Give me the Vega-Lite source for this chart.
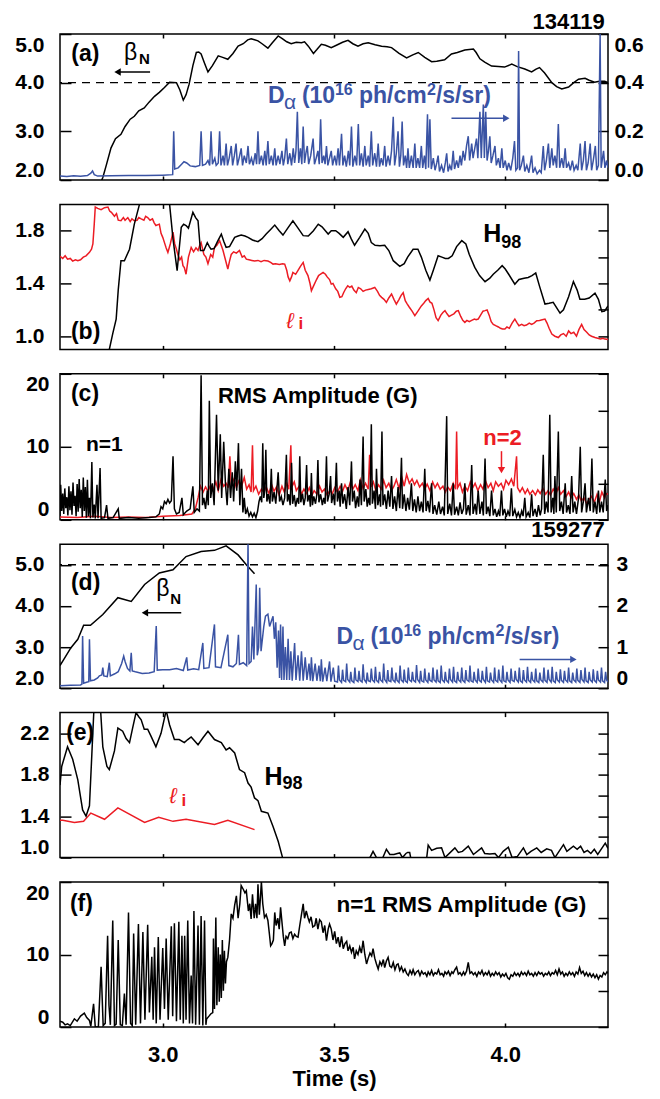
{
"$schema":"https://vega.github.io/schema/vega-lite/v6.json",
"background":"white",
"padding":{"left":14,"top":10,"right":5,"bottom":5},
"spacing":24.4,
"bounds":"flush",
"config":{
 "font":"Liberation Sans",
 "view":{"stroke":"black","strokeWidth":1.5},
 "axis":{"domain":false,"grid":false,"labelFont":"Liberation Sans","labelFontWeight":"bold","labelFontSize":21,"labelColor":"black","tickColor":"black","tickWidth":1.5},
 "text":{"font":"Liberation Sans"}
},
"datasets":{
"ba":[{"t":2.81,"v":1.8},{"t":2.825,"v":2.05},{"t":2.835,"v":2.3},{"t":2.849,"v":2.66},{"t":2.862,"v":2.85},{"t":2.878,"v":2.94},{"t":2.89,"v":3.1},{"t":2.905,"v":3.25},{"t":2.917,"v":3.31},{"t":2.93,"v":3.42},{"t":2.946,"v":3.48},{"t":2.96,"v":3.6},{"t":2.976,"v":3.72},{"t":2.99,"v":3.8},{"t":3.005,"v":3.9},{"t":3.02,"v":4.01},{"t":3.04,"v":4.0},{"t":3.05,"v":3.85},{"t":3.06,"v":3.64},{"t":3.068,"v":3.75},{"t":3.077,"v":3.97},{"t":3.088,"v":4.35},{"t":3.098,"v":4.62},{"t":3.105,"v":4.63},{"t":3.112,"v":4.59},{"t":3.122,"v":4.4},{"t":3.132,"v":4.22},{"t":3.145,"v":4.35},{"t":3.162,"v":4.55},{"t":3.175,"v":4.52},{"t":3.19,"v":4.48},{"t":3.205,"v":4.6},{"t":3.22,"v":4.75},{"t":3.235,"v":4.8},{"t":3.248,"v":4.88},{"t":3.258,"v":4.9},{"t":3.268,"v":4.88},{"t":3.278,"v":4.86},{"t":3.29,"v":4.8},{"t":3.307,"v":4.71},{"t":3.32,"v":4.82},{"t":3.337,"v":4.96},{"t":3.35,"v":4.9},{"t":3.362,"v":4.84},{"t":3.375,"v":4.8},{"t":3.39,"v":4.83},{"t":3.405,"v":4.82},{"t":3.414,"v":4.84},{"t":3.425,"v":4.75},{"t":3.44,"v":4.6},{"t":3.45,"v":4.68},{"t":3.463,"v":4.79},{"t":3.475,"v":4.77},{"t":3.492,"v":4.72},{"t":3.51,"v":4.78},{"t":3.525,"v":4.83},{"t":3.541,"v":4.87},{"t":3.555,"v":4.8},{"t":3.57,"v":4.75},{"t":3.585,"v":4.8},{"t":3.6,"v":4.82},{"t":3.62,"v":4.78},{"t":3.639,"v":4.75},{"t":3.655,"v":4.74},{"t":3.668,"v":4.72},{"t":3.69,"v":4.6},{"t":3.712,"v":4.51},{"t":3.73,"v":4.57},{"t":3.746,"v":4.62},{"t":3.765,"v":4.52},{"t":3.785,"v":4.43},{"t":3.8,"v":4.44},{"t":3.823,"v":4.47},{"t":3.843,"v":4.59},{"t":3.86,"v":4.62},{"t":3.882,"v":4.67},{"t":3.907,"v":4.69},{"t":3.915,"v":4.62},{"t":3.926,"v":4.49},{"t":3.94,"v":4.42},{"t":3.96,"v":4.34},{"t":3.98,"v":4.33},{"t":3.998,"v":4.32},{"t":4.019,"v":4.38},{"t":4.035,"v":4.33},{"t":4.057,"v":4.28},{"t":4.077,"v":4.22},{"t":4.09,"v":4.28},{"t":4.1,"v":4.31},{"t":4.115,"v":4.2},{"t":4.136,"v":4.0},{"t":4.15,"v":3.92},{"t":4.165,"v":3.87},{"t":4.185,"v":3.91},{"t":4.2,"v":4.0},{"t":4.214,"v":4.07},{"t":4.233,"v":4.09},{"t":4.245,"v":4.05},{"t":4.261,"v":4.01},{"t":4.275,"v":4.03},{"t":4.29,"v":4.03},{"t":4.3,"v":4.0}],
"da":[{"t":2.7,"v":0.016},{"t":2.72,"v":0.014},{"t":2.74,"v":0.017},{"t":2.76,"v":0.015},{"t":2.78,"v":0.018},{"t":2.79,"v":0.028},{"t":2.795,"v":0.037},{"t":2.8,"v":0.022},{"t":2.81,"v":0.016},{"t":2.85,"v":0.017},{"t":2.9,"v":0.019},{"t":2.95,"v":0.018},{"t":3.0,"v":0.02},{"t":3.029,"v":0.022},{"t":3.032,"v":0.2},{"t":3.035,"v":0.045},{"t":3.045,"v":0.05},{"t":3.055,"v":0.065},{"t":3.062,"v":0.075},{"t":3.07,"v":0.07},{"t":3.08,"v":0.058},{"t":3.095,"v":0.055},{"t":3.108,"v":0.06},{"t":3.112,"v":0.2},{"t":3.116,"v":0.06},{"t":3.125,"v":0.065},{"t":3.132,"v":0.08},{"t":3.137,"v":0.06},{"t":3.141,"v":0.2},{"t":3.145,"v":0.065},{"t":3.152,"v":0.09},{"t":3.156,"v":0.06},{"t":3.162,"v":0.07},{"t":3.166,"v":0.2},{"t":3.17,"v":0.06},{"t":3.176,"v":0.1},{"t":3.18,"v":0.06},{"t":3.185,"v":0.15},{"t":3.189,"v":0.06},{"t":3.194,"v":0.09},{"t":3.2,"v":0.14},{"t":3.204,"v":0.06},{"t":3.209,"v":0.1},{"t":3.214,"v":0.15},{"t":3.218,"v":0.06},{"t":3.223,"v":0.09},{"t":3.229,"v":0.13},{"t":3.233,"v":0.06},{"t":3.238,"v":0.1},{"t":3.244,"v":0.07},{"t":3.249,"v":0.14},{"t":3.253,"v":0.065},{"t":3.259,"v":0.09},{"t":3.264,"v":0.06},{"t":3.27,"v":0.11},{"t":3.274,"v":0.065},{"t":3.278,"v":0.2},{"t":3.282,"v":0.065},{"t":3.288,"v":0.1},{"t":3.293,"v":0.06},{"t":3.298,"v":0.12},{"t":3.302,"v":0.06},{"t":3.307,"v":0.16},{"t":3.311,"v":0.065},{"t":3.317,"v":0.1},{"t":3.322,"v":0.06},{"t":3.327,"v":0.13},{"t":3.331,"v":0.06},{"t":3.337,"v":0.1},{"t":3.342,"v":0.065},{"t":3.348,"v":0.12},{"t":3.352,"v":0.06},{"t":3.356,"v":0.09},{"t":3.361,"v":0.17},{"t":3.365,"v":0.065},{"t":3.371,"v":0.11},{"t":3.376,"v":0.06},{"t":3.381,"v":0.13},{"t":3.385,"v":0.07},{"t":3.389,"v":0.12},{"t":3.393,"v":0.28},{"t":3.397,"v":0.07},{"t":3.402,"v":0.13},{"t":3.406,"v":0.065},{"t":3.41,"v":0.22},{"t":3.414,"v":0.07},{"t":3.418,"v":0.11},{"t":3.422,"v":0.14},{"t":3.426,"v":0.065},{"t":3.432,"v":0.1},{"t":3.439,"v":0.17},{"t":3.443,"v":0.065},{"t":3.448,"v":0.09},{"t":3.453,"v":0.12},{"t":3.457,"v":0.065},{"t":3.461,"v":0.25},{"t":3.465,"v":0.07},{"t":3.47,"v":0.1},{"t":3.474,"v":0.065},{"t":3.478,"v":0.14},{"t":3.482,"v":0.06},{"t":3.487,"v":0.09},{"t":3.492,"v":0.12},{"t":3.496,"v":0.06},{"t":3.502,"v":0.1},{"t":3.507,"v":0.06},{"t":3.512,"v":0.13},{"t":3.516,"v":0.06},{"t":3.522,"v":0.19},{"t":3.526,"v":0.06},{"t":3.531,"v":0.1},{"t":3.536,"v":0.055},{"t":3.542,"v":0.12},{"t":3.546,"v":0.06},{"t":3.551,"v":0.22},{"t":3.555,"v":0.055},{"t":3.561,"v":0.1},{"t":3.566,"v":0.06},{"t":3.571,"v":0.23},{"t":3.575,"v":0.06},{"t":3.58,"v":0.11},{"t":3.585,"v":0.055},{"t":3.59,"v":0.14},{"t":3.594,"v":0.06},{"t":3.6,"v":0.1},{"t":3.604,"v":0.055},{"t":3.609,"v":0.2},{"t":3.613,"v":0.06},{"t":3.619,"v":0.11},{"t":3.624,"v":0.055},{"t":3.629,"v":0.15},{"t":3.633,"v":0.055},{"t":3.638,"v":0.09},{"t":3.643,"v":0.06},{"t":3.648,"v":0.14},{"t":3.652,"v":0.055},{"t":3.658,"v":0.1},{"t":3.663,"v":0.06},{"t":3.668,"v":0.12},{"t":3.673,"v":0.26},{"t":3.677,"v":0.06},{"t":3.682,"v":0.11},{"t":3.687,"v":0.2},{"t":3.691,"v":0.055},{"t":3.695,"v":0.1},{"t":3.699,"v":0.24},{"t":3.703,"v":0.06},{"t":3.708,"v":0.1},{"t":3.712,"v":0.05},{"t":3.716,"v":0.13},{"t":3.72,"v":0.05},{"t":3.726,"v":0.1},{"t":3.731,"v":0.05},{"t":3.736,"v":0.15},{"t":3.74,"v":0.05},{"t":3.745,"v":0.09},{"t":3.75,"v":0.05},{"t":3.755,"v":0.14},{"t":3.759,"v":0.05},{"t":3.764,"v":0.1},{"t":3.768,"v":0.045},{"t":3.773,"v":0.27},{"t":3.776,"v":0.05},{"t":3.78,"v":0.25},{"t":3.784,"v":0.045},{"t":3.79,"v":0.09},{"t":3.795,"v":0.04},{"t":3.8,"v":0.07},{"t":3.804,"v":0.1},{"t":3.808,"v":0.035},{"t":3.814,"v":0.06},{"t":3.82,"v":0.03},{"t":3.825,"v":0.07},{"t":3.829,"v":0.11},{"t":3.833,"v":0.035},{"t":3.838,"v":0.06},{"t":3.843,"v":0.04},{"t":3.848,"v":0.12},{"t":3.852,"v":0.045},{"t":3.858,"v":0.08},{"t":3.863,"v":0.05},{"t":3.868,"v":0.1},{"t":3.872,"v":0.06},{"t":3.877,"v":0.12},{"t":3.882,"v":0.08},{"t":3.887,"v":0.14},{"t":3.892,"v":0.18},{"t":3.896,"v":0.08},{"t":3.902,"v":0.15},{"t":3.906,"v":0.09},{"t":3.911,"v":0.13},{"t":3.916,"v":0.17},{"t":3.92,"v":0.09},{"t":3.926,"v":0.28},{"t":3.93,"v":0.09},{"t":3.936,"v":0.31},{"t":3.939,"v":0.09},{"t":3.943,"v":0.28},{"t":3.947,"v":0.08},{"t":3.951,"v":0.12},{"t":3.955,"v":0.18},{"t":3.959,"v":0.07},{"t":3.964,"v":0.1},{"t":3.97,"v":0.14},{"t":3.974,"v":0.06},{"t":3.98,"v":0.09},{"t":3.985,"v":0.05},{"t":3.99,"v":0.13},{"t":3.994,"v":0.05},{"t":4.0,"v":0.08},{"t":4.005,"v":0.04},{"t":4.01,"v":0.07},{"t":4.016,"v":0.04},{"t":4.022,"v":0.09},{"t":4.027,"v":0.16},{"t":4.031,"v":0.04},{"t":4.036,"v":0.05},{"t":4.039,"v":0.53},{"t":4.042,"v":0.04},{"t":4.047,"v":0.06},{"t":4.053,"v":0.1},{"t":4.057,"v":0.035},{"t":4.063,"v":0.06},{"t":4.069,"v":0.03},{"t":4.077,"v":0.1},{"t":4.081,"v":0.03},{"t":4.087,"v":0.05},{"t":4.093,"v":0.025},{"t":4.1,"v":0.04},{"t":4.105,"v":0.03},{"t":4.111,"v":0.14},{"t":4.115,"v":0.04},{"t":4.12,"v":0.08},{"t":4.126,"v":0.15},{"t":4.13,"v":0.05},{"t":4.136,"v":0.13},{"t":4.14,"v":0.06},{"t":4.145,"v":0.1},{"t":4.15,"v":0.05},{"t":4.155,"v":0.23},{"t":4.159,"v":0.05},{"t":4.165,"v":0.09},{"t":4.17,"v":0.05},{"t":4.175,"v":0.13},{"t":4.179,"v":0.05},{"t":4.185,"v":0.07},{"t":4.19,"v":0.04},{"t":4.196,"v":0.08},{"t":4.201,"v":0.04},{"t":4.207,"v":0.06},{"t":4.212,"v":0.04},{"t":4.219,"v":0.15},{"t":4.223,"v":0.04},{"t":4.228,"v":0.08},{"t":4.233,"v":0.16},{"t":4.237,"v":0.04},{"t":4.242,"v":0.07},{"t":4.248,"v":0.15},{"t":4.252,"v":0.04},{"t":4.257,"v":0.08},{"t":4.263,"v":0.14},{"t":4.267,"v":0.04},{"t":4.272,"v":0.06},{"t":4.277,"v":0.6},{"t":4.28,"v":0.05},{"t":4.287,"v":0.12},{"t":4.291,"v":0.05},{"t":4.296,"v":0.08},{"t":4.3,"v":0.05}],
"lib":[{"t":2.7,"v":1.606},{"t":2.708,"v":1.59},{"t":2.715,"v":1.61},{"t":2.722,"v":1.585},{"t":2.73,"v":1.59},{"t":2.737,"v":1.57},{"t":2.745,"v":1.58},{"t":2.752,"v":1.573},{"t":2.76,"v":1.58},{"t":2.768,"v":1.6},{"t":2.776,"v":1.61},{"t":2.786,"v":1.636},{"t":2.792,"v":1.66},{"t":2.796,"v":1.7},{"t":2.8,"v":1.85},{"t":2.803,"v":1.98},{"t":2.81,"v":1.97},{"t":2.82,"v":1.96},{"t":2.83,"v":1.975},{"t":2.84,"v":1.98},{"t":2.845,"v":1.95},{"t":2.85,"v":1.94},{"t":2.859,"v":1.91},{"t":2.865,"v":1.93},{"t":2.87,"v":1.88},{"t":2.878,"v":1.876},{"t":2.885,"v":1.9},{"t":2.89,"v":1.88},{"t":2.898,"v":1.9},{"t":2.905,"v":1.87},{"t":2.91,"v":1.89},{"t":2.917,"v":1.876},{"t":2.925,"v":1.88},{"t":2.93,"v":1.9},{"t":2.937,"v":1.89},{"t":2.945,"v":1.88},{"t":2.95,"v":1.91},{"t":2.956,"v":1.9},{"t":2.963,"v":1.88},{"t":2.97,"v":1.89},{"t":2.975,"v":1.86},{"t":2.98,"v":1.84},{"t":2.99,"v":1.85},{"t":2.995,"v":1.78},{"t":3.0,"v":1.75},{"t":3.005,"v":1.71},{"t":3.01,"v":1.67},{"t":3.015,"v":1.636},{"t":3.022,"v":1.7},{"t":3.03,"v":1.79},{"t":3.035,"v":1.7},{"t":3.04,"v":1.66},{"t":3.044,"v":1.62},{"t":3.05,"v":1.58},{"t":3.055,"v":1.6},{"t":3.059,"v":1.535},{"t":3.063,"v":1.52},{"t":3.068,"v":1.47},{"t":3.075,"v":1.6},{"t":3.083,"v":1.674},{"t":3.09,"v":1.64},{"t":3.097,"v":1.67},{"t":3.103,"v":1.65},{"t":3.108,"v":1.69},{"t":3.112,"v":1.71},{"t":3.12,"v":1.62},{"t":3.126,"v":1.6},{"t":3.132,"v":1.55},{"t":3.14,"v":1.62},{"t":3.146,"v":1.6},{"t":3.151,"v":1.674},{"t":3.158,"v":1.69},{"t":3.166,"v":1.725},{"t":3.172,"v":1.68},{"t":3.176,"v":1.65},{"t":3.183,"v":1.58},{"t":3.19,"v":1.51},{"t":3.195,"v":1.57},{"t":3.2,"v":1.62},{"t":3.207,"v":1.64},{"t":3.215,"v":1.63},{"t":3.224,"v":1.65},{"t":3.232,"v":1.6},{"t":3.238,"v":1.61},{"t":3.244,"v":1.585},{"t":3.252,"v":1.58},{"t":3.26,"v":1.575},{"t":3.268,"v":1.57},{"t":3.278,"v":1.575},{"t":3.287,"v":1.565},{"t":3.296,"v":1.575},{"t":3.307,"v":1.57},{"t":3.315,"v":1.56},{"t":3.322,"v":1.547},{"t":3.33,"v":1.55},{"t":3.34,"v":1.545},{"t":3.35,"v":1.55},{"t":3.356,"v":1.547},{"t":3.362,"v":1.5},{"t":3.366,"v":1.45},{"t":3.371,"v":1.42},{"t":3.376,"v":1.45},{"t":3.38,"v":1.484},{"t":3.388,"v":1.47},{"t":3.395,"v":1.5},{"t":3.402,"v":1.53},{"t":3.41,"v":1.56},{"t":3.416,"v":1.5},{"t":3.42,"v":1.48},{"t":3.424,"v":1.46},{"t":3.43,"v":1.4},{"t":3.434,"v":1.345},{"t":3.44,"v":1.38},{"t":3.449,"v":1.43},{"t":3.455,"v":1.46},{"t":3.46,"v":1.47},{"t":3.468,"v":1.484},{"t":3.475,"v":1.47},{"t":3.48,"v":1.45},{"t":3.487,"v":1.43},{"t":3.492,"v":1.395},{"t":3.497,"v":1.4},{"t":3.505,"v":1.36},{"t":3.511,"v":1.34},{"t":3.517,"v":1.295},{"t":3.523,"v":1.3},{"t":3.528,"v":1.33},{"t":3.534,"v":1.36},{"t":3.54,"v":1.383},{"t":3.546,"v":1.37},{"t":3.552,"v":1.38},{"t":3.558,"v":1.35},{"t":3.565,"v":1.33},{"t":3.571,"v":1.37},{"t":3.578,"v":1.36},{"t":3.585,"v":1.34},{"t":3.592,"v":1.35},{"t":3.6,"v":1.355},{"t":3.609,"v":1.36},{"t":3.619,"v":1.37},{"t":3.627,"v":1.34},{"t":3.633,"v":1.31},{"t":3.639,"v":1.295},{"t":3.646,"v":1.28},{"t":3.653,"v":1.257},{"t":3.66,"v":1.29},{"t":3.668,"v":1.32},{"t":3.675,"v":1.28},{"t":3.682,"v":1.244},{"t":3.69,"v":1.28},{"t":3.696,"v":1.31},{"t":3.702,"v":1.33},{"t":3.708,"v":1.27},{"t":3.714,"v":1.244},{"t":3.72,"v":1.22},{"t":3.728,"v":1.19},{"t":3.736,"v":1.156},{"t":3.745,"v":1.19},{"t":3.755,"v":1.23},{"t":3.762,"v":1.25},{"t":3.768,"v":1.27},{"t":3.775,"v":1.287},{"t":3.78,"v":1.26},{"t":3.786,"v":1.25},{"t":3.792,"v":1.2},{"t":3.798,"v":1.14},{"t":3.804,"v":1.118},{"t":3.812,"v":1.16},{"t":3.818,"v":1.18},{"t":3.824,"v":1.194},{"t":3.83,"v":1.17},{"t":3.836,"v":1.15},{"t":3.843,"v":1.16},{"t":3.85,"v":1.17},{"t":3.857,"v":1.19},{"t":3.863,"v":1.194},{"t":3.87,"v":1.15},{"t":3.876,"v":1.12},{"t":3.882,"v":1.105},{"t":3.888,"v":1.12},{"t":3.895,"v":1.11},{"t":3.902,"v":1.12},{"t":3.91,"v":1.13},{"t":3.915,"v":1.125},{"t":3.921,"v":1.13},{"t":3.928,"v":1.16},{"t":3.935,"v":1.19},{"t":3.941,"v":1.194},{"t":3.947,"v":1.2},{"t":3.953,"v":1.16},{"t":3.959,"v":1.11},{"t":3.965,"v":1.09},{"t":3.972,"v":1.08},{"t":3.98,"v":1.07},{"t":3.986,"v":1.06},{"t":3.992,"v":1.055},{"t":3.999,"v":1.054},{"t":4.005,"v":1.07},{"t":4.012,"v":1.06},{"t":4.02,"v":1.1},{"t":4.028,"v":1.13},{"t":4.035,"v":1.1},{"t":4.04,"v":1.08},{"t":4.048,"v":1.09},{"t":4.055,"v":1.08},{"t":4.062,"v":1.085},{"t":4.07,"v":1.1},{"t":4.077,"v":1.09},{"t":4.084,"v":1.1},{"t":4.092,"v":1.118},{"t":4.1,"v":1.12},{"t":4.108,"v":1.125},{"t":4.116,"v":1.13},{"t":4.122,"v":1.1},{"t":4.128,"v":1.06},{"t":4.136,"v":1.016},{"t":4.145,"v":1.0},{"t":4.155,"v":0.99},{"t":4.162,"v":1.01},{"t":4.17,"v":1.02},{"t":4.178,"v":1.0},{"t":4.185,"v":1.04},{"t":4.192,"v":1.02},{"t":4.2,"v":1.03},{"t":4.208,"v":1.0},{"t":4.215,"v":1.05},{"t":4.223,"v":1.09},{"t":4.23,"v":1.05},{"t":4.238,"v":1.03},{"t":4.245,"v":1.01},{"t":4.252,"v":1.0},{"t":4.262,"v":0.99},{"t":4.27,"v":0.985},{"t":4.278,"v":0.98},{"t":4.285,"v":0.985},{"t":4.291,"v":0.978},{"t":4.3,"v":0.975}],
"hb":[{"t":2.835,"v":0.85},{"t":2.844,"v":0.9},{"t":2.854,"v":1.02},{"t":2.864,"v":1.13},{"t":2.87,"v":1.35},{"t":2.878,"v":1.573},{"t":2.888,"v":1.573},{"t":2.903,"v":1.66},{"t":2.917,"v":1.85},{"t":2.932,"v":2.0},{"t":2.94,"v":2.1},{"t":2.96,"v":2.3},{"t":2.99,"v":2.25},{"t":3.01,"v":2.15},{"t":3.02,"v":2.0},{"t":3.03,"v":1.737},{"t":3.042,"v":1.497},{"t":3.054,"v":1.826},{"t":3.061,"v":1.85},{"t":3.068,"v":1.84},{"t":3.075,"v":1.82},{"t":3.088,"v":1.94},{"t":3.096,"v":1.9},{"t":3.103,"v":1.876},{"t":3.11,"v":1.65},{"t":3.12,"v":1.65},{"t":3.13,"v":1.71},{"t":3.136,"v":1.68},{"t":3.141,"v":1.66},{"t":3.15,"v":1.665},{"t":3.16,"v":1.72},{"t":3.171,"v":1.775},{"t":3.178,"v":1.72},{"t":3.185,"v":1.674},{"t":3.195,"v":1.68},{"t":3.21,"v":1.75},{"t":3.22,"v":1.76},{"t":3.229,"v":1.767},{"t":3.24,"v":1.76},{"t":3.249,"v":1.75},{"t":3.262,"v":1.73},{"t":3.278,"v":1.717},{"t":3.29,"v":1.74},{"t":3.302,"v":1.775},{"t":3.315,"v":1.81},{"t":3.327,"v":1.843},{"t":3.34,"v":1.8},{"t":3.351,"v":1.767},{"t":3.365,"v":1.82},{"t":3.38,"v":1.876},{"t":3.395,"v":1.82},{"t":3.41,"v":1.763},{"t":3.425,"v":1.76},{"t":3.44,"v":1.8},{"t":3.454,"v":1.85},{"t":3.465,"v":1.83},{"t":3.483,"v":1.775},{"t":3.492,"v":1.8},{"t":3.505,"v":1.8},{"t":3.515,"v":1.78},{"t":3.527,"v":1.75},{"t":3.541,"v":1.793},{"t":3.55,"v":1.74},{"t":3.56,"v":1.69},{"t":3.575,"v":1.75},{"t":3.59,"v":1.813},{"t":3.6,"v":1.78},{"t":3.609,"v":1.71},{"t":3.62,"v":1.69},{"t":3.634,"v":1.687},{"t":3.648,"v":1.69},{"t":3.66,"v":1.65},{"t":3.673,"v":1.573},{"t":3.692,"v":1.53},{"t":3.705,"v":1.55},{"t":3.715,"v":1.6},{"t":3.731,"v":1.66},{"t":3.745,"v":1.66},{"t":3.755,"v":1.6},{"t":3.768,"v":1.5},{"t":3.78,"v":1.426},{"t":3.79,"v":1.5},{"t":3.804,"v":1.61},{"t":3.815,"v":1.6},{"t":3.825,"v":1.59},{"t":3.834,"v":1.59},{"t":3.845,"v":1.61},{"t":3.858,"v":1.68},{"t":3.873,"v":1.725},{"t":3.885,"v":1.7},{"t":3.895,"v":1.62},{"t":3.911,"v":1.522},{"t":3.925,"v":1.46},{"t":3.941,"v":1.414},{"t":3.955,"v":1.44},{"t":3.965,"v":1.47},{"t":3.978,"v":1.5},{"t":3.991,"v":1.535},{"t":4.0,"v":1.51},{"t":4.01,"v":1.47},{"t":4.028,"v":1.395},{"t":4.04,"v":1.43},{"t":4.055,"v":1.44},{"t":4.067,"v":1.446},{"t":4.078,"v":1.46},{"t":4.089,"v":1.48},{"t":4.1,"v":1.38},{"t":4.116,"v":1.244},{"t":4.128,"v":1.25},{"t":4.14,"v":1.257},{"t":4.16,"v":1.175},{"t":4.17,"v":1.2},{"t":4.185,"v":1.3},{"t":4.199,"v":1.414},{"t":4.21,"v":1.35},{"t":4.218,"v":1.28},{"t":4.232,"v":1.28},{"t":4.245,"v":1.29},{"t":4.262,"v":1.327},{"t":4.272,"v":1.28},{"t":4.282,"v":1.186},{"t":4.29,"v":1.19},{"t":4.3,"v":1.23}],
"n1c":[{"t":2.7,"v":0.5},{"t":2.702,"v":4.8},{"t":2.705,"v":1.2},{"t":2.708,"v":3.6},{"t":2.711,"v":0.8},{"t":2.714,"v":4.3},{"t":2.717,"v":1.6},{"t":2.72,"v":3.1},{"t":2.723,"v":0.6},{"t":2.726,"v":4.6},{"t":2.729,"v":1.3},{"t":2.732,"v":3.9},{"t":2.735,"v":0.7},{"t":2.738,"v":5.1},{"t":2.741,"v":1.9},{"t":2.744,"v":3.3},{"t":2.747,"v":0.5},{"t":2.75,"v":4.9},{"t":2.753,"v":1.1},{"t":2.756,"v":5.6},{"t":2.759,"v":1.6},{"t":2.762,"v":4.1},{"t":2.765,"v":0.4},{"t":2.768,"v":5.8},{"t":2.771,"v":1.2},{"t":2.774,"v":4.5},{"t":2.777,"v":0.3},{"t":2.78,"v":5.5},{"t":2.783,"v":0.5},{"t":2.786,"v":3.0},{"t":2.789,"v":0.2},{"t":2.793,"v":7.9},{"t":2.796,"v":0.3},{"t":2.8,"v":2.1},{"t":2.803,"v":0.2},{"t":2.808,"v":4.8},{"t":2.811,"v":0.2},{"t":2.817,"v":7.1},{"t":2.82,"v":0.2},{"t":2.83,"v":0.3},{"t":2.836,"v":2.0},{"t":2.84,"v":0.2},{"t":2.855,"v":0.3},{"t":2.87,"v":1.5},{"t":2.873,"v":0.2},{"t":2.9,"v":0.3},{"t":2.93,"v":0.2},{"t":2.96,"v":0.3},{"t":2.98,"v":0.4},{"t":2.99,"v":0.8},{"t":2.995,"v":1.8},{"t":3.0,"v":1.5},{"t":3.005,"v":2.5},{"t":3.01,"v":2.2},{"t":3.015,"v":2.8},{"t":3.02,"v":2.3},{"t":3.025,"v":2.6},{"t":3.03,"v":8.7},{"t":3.034,"v":1.5},{"t":3.04,"v":0.8},{"t":3.048,"v":1.0},{"t":3.056,"v":3.0},{"t":3.06,"v":0.7},{"t":3.07,"v":1.2},{"t":3.08,"v":1.5},{"t":3.088,"v":4.6},{"t":3.092,"v":1.0},{"t":3.1,"v":1.5},{"t":3.107,"v":1.2},{"t":3.112,"v":19.8},{"t":3.116,"v":2.0},{"t":3.12,"v":3.0},{"t":3.125,"v":1.5},{"t":3.13,"v":4.0},{"t":3.133,"v":2.0},{"t":3.136,"v":16.3},{"t":3.14,"v":3.0},{"t":3.145,"v":5.0},{"t":3.15,"v":2.0},{"t":3.157,"v":14.4},{"t":3.162,"v":4.0},{"t":3.168,"v":11.7},{"t":3.172,"v":3.0},{"t":3.178,"v":10.7},{"t":3.183,"v":5.0},{"t":3.188,"v":2.0},{"t":3.193,"v":7.0},{"t":3.198,"v":3.0},{"t":3.203,"v":6.5},{"t":3.207,"v":2.5},{"t":3.212,"v":8.0},{"t":3.216,"v":4.0},{"t":3.221,"v":10.5},{"t":3.225,"v":2.0},{"t":3.23,"v":7.0},{"t":3.234,"v":1.0},{"t":3.238,"v":3.0},{"t":3.242,"v":0.8},{"t":3.247,"v":1.5},{"t":3.252,"v":0.5},{"t":3.257,"v":1.0},{"t":3.262,"v":0.4},{"t":3.267,"v":0.9},{"t":3.272,"v":0.3},{"t":3.277,"v":1.2},{"t":3.281,"v":2.5},{"t":3.285,"v":3.2},{"t":3.289,"v":2.4},{"t":3.292,"v":10.5},{"t":3.295,"v":3.0},{"t":3.298,"v":4.0},{"t":3.301,"v":9.6},{"t":3.304,"v":2.5},{"t":3.308,"v":3.5},{"t":3.313,"v":2.2},{"t":3.317,"v":7.0},{"t":3.32,"v":2.5},{"t":3.325,"v":3.8},{"t":3.33,"v":2.2},{"t":3.337,"v":6.5},{"t":3.341,"v":2.5},{"t":3.346,"v":3.2},{"t":3.351,"v":2.0},{"t":3.356,"v":3.0},{"t":3.361,"v":8.9},{"t":3.364,"v":2.5},{"t":3.368,"v":3.5},{"t":3.372,"v":2.0},{"t":3.376,"v":7.8},{"t":3.379,"v":2.2},{"t":3.384,"v":3.4},{"t":3.388,"v":1.8},{"t":3.393,"v":3.0},{"t":3.397,"v":2.2},{"t":3.4,"v":8.7},{"t":3.403,"v":2.4},{"t":3.408,"v":3.6},{"t":3.412,"v":2.0},{"t":3.416,"v":3.0},{"t":3.42,"v":7.5},{"t":3.423,"v":2.5},{"t":3.428,"v":3.4},{"t":3.431,"v":1.8},{"t":3.434,"v":6.4},{"t":3.437,"v":2.0},{"t":3.441,"v":3.2},{"t":3.446,"v":2.2},{"t":3.45,"v":3.5},{"t":3.453,"v":8.2},{"t":3.456,"v":2.4},{"t":3.461,"v":3.5},{"t":3.466,"v":2.0},{"t":3.47,"v":3.0},{"t":3.474,"v":2.2},{"t":3.478,"v":8.7},{"t":3.481,"v":2.5},{"t":3.486,"v":3.5},{"t":3.49,"v":6.0},{"t":3.493,"v":2.3},{"t":3.498,"v":3.6},{"t":3.502,"v":2.0},{"t":3.507,"v":7.8},{"t":3.51,"v":2.5},{"t":3.515,"v":4.0},{"t":3.518,"v":1.8},{"t":3.522,"v":5.0},{"t":3.526,"v":2.2},{"t":3.531,"v":3.5},{"t":3.536,"v":1.5},{"t":3.541,"v":4.5},{"t":3.546,"v":2.0},{"t":3.551,"v":8.0},{"t":3.554,"v":2.5},{"t":3.559,"v":4.0},{"t":3.563,"v":1.6},{"t":3.568,"v":3.2},{"t":3.572,"v":1.8},{"t":3.576,"v":5.5},{"t":3.58,"v":2.0},{"t":3.585,"v":11.4},{"t":3.588,"v":2.5},{"t":3.593,"v":4.2},{"t":3.597,"v":1.8},{"t":3.601,"v":3.0},{"t":3.605,"v":2.0},{"t":3.609,"v":13.1},{"t":3.612,"v":2.2},{"t":3.617,"v":4.0},{"t":3.621,"v":1.5},{"t":3.624,"v":7.0},{"t":3.628,"v":2.0},{"t":3.633,"v":3.5},{"t":3.636,"v":1.8},{"t":3.64,"v":12.1},{"t":3.643,"v":2.0},{"t":3.648,"v":3.5},{"t":3.653,"v":1.5},{"t":3.658,"v":4.0},{"t":3.663,"v":1.8},{"t":3.668,"v":6.0},{"t":3.672,"v":1.5},{"t":3.677,"v":3.2},{"t":3.682,"v":1.2},{"t":3.687,"v":4.5},{"t":3.692,"v":1.6},{"t":3.697,"v":8.5},{"t":3.7,"v":1.5},{"t":3.705,"v":3.5},{"t":3.71,"v":1.2},{"t":3.715,"v":3.0},{"t":3.72,"v":1.4},{"t":3.726,"v":5.0},{"t":3.73,"v":1.2},{"t":3.735,"v":2.8},{"t":3.74,"v":1.0},{"t":3.745,"v":3.2},{"t":3.75,"v":1.2},{"t":3.755,"v":2.5},{"t":3.76,"v":1.0},{"t":3.765,"v":7.0},{"t":3.769,"v":1.2},{"t":3.774,"v":2.6},{"t":3.779,"v":1.0},{"t":3.785,"v":5.0},{"t":3.789,"v":0.8},{"t":3.794,"v":2.0},{"t":3.8,"v":0.7},{"t":3.806,"v":2.5},{"t":3.811,"v":0.8},{"t":3.817,"v":1.8},{"t":3.822,"v":0.6},{"t":3.829,"v":14.2},{"t":3.832,"v":0.8},{"t":3.838,"v":2.2},{"t":3.843,"v":0.6},{"t":3.848,"v":5.0},{"t":3.852,"v":0.7},{"t":3.858,"v":1.8},{"t":3.863,"v":0.6},{"t":3.868,"v":2.4},{"t":3.873,"v":0.8},{"t":3.878,"v":1.5},{"t":3.882,"v":5.0},{"t":3.886,"v":0.7},{"t":3.892,"v":2.0},{"t":3.897,"v":0.6},{"t":3.902,"v":7.5},{"t":3.906,"v":0.8},{"t":3.912,"v":2.2},{"t":3.916,"v":0.7},{"t":3.921,"v":4.0},{"t":3.926,"v":0.8},{"t":3.932,"v":2.5},{"t":3.936,"v":0.6},{"t":3.941,"v":8.4},{"t":3.945,"v":0.8},{"t":3.95,"v":1.8},{"t":3.955,"v":0.5},{"t":3.96,"v":4.0},{"t":3.965,"v":0.6},{"t":3.97,"v":1.5},{"t":3.975,"v":0.4},{"t":3.98,"v":1.2},{"t":3.984,"v":0.5},{"t":3.989,"v":4.0},{"t":3.993,"v":0.6},{"t":3.998,"v":1.5},{"t":4.003,"v":0.4},{"t":4.008,"v":1.2},{"t":4.013,"v":0.5},{"t":4.018,"v":4.3},{"t":4.022,"v":0.5},{"t":4.028,"v":1.4},{"t":4.033,"v":0.4},{"t":4.038,"v":1.0},{"t":4.043,"v":0.3},{"t":4.048,"v":1.2},{"t":4.052,"v":0.5},{"t":4.057,"v":3.0},{"t":4.061,"v":0.4},{"t":4.067,"v":1.0},{"t":4.072,"v":0.3},{"t":4.077,"v":3.5},{"t":4.081,"v":0.5},{"t":4.087,"v":1.5},{"t":4.092,"v":0.4},{"t":4.097,"v":2.0},{"t":4.102,"v":0.6},{"t":4.106,"v":1.5},{"t":4.111,"v":8.9},{"t":4.115,"v":0.8},{"t":4.12,"v":2.5},{"t":4.125,"v":1.0},{"t":4.13,"v":14.4},{"t":4.134,"v":1.0},{"t":4.139,"v":3.0},{"t":4.142,"v":0.8},{"t":4.145,"v":6.0},{"t":4.149,"v":1.0},{"t":4.155,"v":12.1},{"t":4.159,"v":1.2},{"t":4.164,"v":2.5},{"t":4.169,"v":0.8},{"t":4.175,"v":5.0},{"t":4.179,"v":1.0},{"t":4.184,"v":2.0},{"t":4.189,"v":0.8},{"t":4.194,"v":6.0},{"t":4.198,"v":1.0},{"t":4.203,"v":2.5},{"t":4.208,"v":0.8},{"t":4.214,"v":3.0},{"t":4.219,"v":10.0},{"t":4.223,"v":1.0},{"t":4.228,"v":2.5},{"t":4.233,"v":5.0},{"t":4.237,"v":1.0},{"t":4.243,"v":3.0},{"t":4.248,"v":1.2},{"t":4.253,"v":8.4},{"t":4.257,"v":1.0},{"t":4.262,"v":2.5},{"t":4.267,"v":0.8},{"t":4.272,"v":4.0},{"t":4.276,"v":1.0},{"t":4.281,"v":2.5},{"t":4.286,"v":1.0},{"t":4.292,"v":5.5},{"t":4.296,"v":1.2},{"t":4.3,"v":2.0}],
"n2c":[{"t":2.7,"v":0.4},{"t":2.75,"v":0.3},{"t":2.8,"v":0.5},{"t":2.85,"v":0.3},{"t":2.9,"v":0.4},{"t":2.95,"v":0.3},{"t":3.0,"v":0.5},{"t":3.05,"v":0.6},{"t":3.085,"v":0.8},{"t":3.095,"v":1.5},{"t":3.103,"v":3.0},{"t":3.11,"v":4.6},{"t":3.118,"v":3.8},{"t":3.125,"v":4.5},{"t":3.132,"v":3.9},{"t":3.14,"v":4.8},{"t":3.148,"v":4.2},{"t":3.155,"v":5.2},{"t":3.162,"v":4.0},{"t":3.17,"v":5.5},{"t":3.178,"v":4.6},{"t":3.185,"v":5.0},{"t":3.191,"v":4.4},{"t":3.196,"v":8.7},{"t":3.2,"v":4.8},{"t":3.208,"v":5.6},{"t":3.215,"v":4.4},{"t":3.222,"v":5.3},{"t":3.23,"v":4.6},{"t":3.238,"v":5.8},{"t":3.245,"v":4.2},{"t":3.252,"v":4.8},{"t":3.258,"v":3.8},{"t":3.262,"v":10.2},{"t":3.265,"v":4.0},{"t":3.272,"v":4.6},{"t":3.28,"v":3.5},{"t":3.288,"v":4.2},{"t":3.295,"v":3.8},{"t":3.302,"v":4.5},{"t":3.31,"v":3.6},{"t":3.318,"v":4.8},{"t":3.325,"v":3.9},{"t":3.332,"v":4.5},{"t":3.34,"v":3.4},{"t":3.348,"v":4.6},{"t":3.355,"v":3.8},{"t":3.362,"v":5.0},{"t":3.368,"v":4.2},{"t":3.374,"v":10.2},{"t":3.377,"v":4.5},{"t":3.384,"v":5.2},{"t":3.39,"v":4.0},{"t":3.398,"v":4.6},{"t":3.405,"v":3.5},{"t":3.412,"v":4.2},{"t":3.42,"v":3.6},{"t":3.428,"v":4.4},{"t":3.435,"v":3.3},{"t":3.442,"v":4.0},{"t":3.45,"v":3.5},{"t":3.458,"v":4.6},{"t":3.465,"v":3.8},{"t":3.472,"v":4.2},{"t":3.48,"v":3.4},{"t":3.488,"v":4.0},{"t":3.495,"v":3.6},{"t":3.502,"v":4.4},{"t":3.51,"v":3.8},{"t":3.518,"v":4.6},{"t":3.525,"v":3.9},{"t":3.532,"v":4.8},{"t":3.54,"v":4.0},{"t":3.548,"v":5.2},{"t":3.555,"v":4.2},{"t":3.562,"v":4.8},{"t":3.57,"v":4.0},{"t":3.577,"v":5.5},{"t":3.585,"v":4.3},{"t":3.592,"v":5.0},{"t":3.6,"v":4.2},{"t":3.604,"v":8.9},{"t":3.608,"v":4.5},{"t":3.615,"v":5.2},{"t":3.622,"v":4.0},{"t":3.63,"v":4.8},{"t":3.638,"v":4.2},{"t":3.645,"v":5.4},{"t":3.652,"v":4.4},{"t":3.66,"v":5.0},{"t":3.668,"v":4.0},{"t":3.675,"v":4.6},{"t":3.682,"v":5.5},{"t":3.69,"v":4.3},{"t":3.698,"v":5.8},{"t":3.705,"v":4.6},{"t":3.712,"v":6.2},{"t":3.72,"v":5.0},{"t":3.728,"v":5.6},{"t":3.735,"v":4.8},{"t":3.742,"v":5.4},{"t":3.75,"v":4.5},{"t":3.758,"v":5.0},{"t":3.765,"v":4.2},{"t":3.772,"v":4.9},{"t":3.78,"v":4.0},{"t":3.788,"v":5.2},{"t":3.795,"v":4.4},{"t":3.802,"v":5.0},{"t":3.81,"v":4.2},{"t":3.818,"v":4.6},{"t":3.825,"v":3.8},{"t":3.832,"v":4.5},{"t":3.84,"v":4.0},{"t":3.848,"v":5.0},{"t":3.855,"v":4.2},{"t":3.858,"v":12.1},{"t":3.861,"v":4.4},{"t":3.868,"v":5.0},{"t":3.875,"v":3.8},{"t":3.882,"v":4.6},{"t":3.89,"v":4.0},{"t":3.898,"v":5.2},{"t":3.905,"v":4.4},{"t":3.912,"v":5.0},{"t":3.92,"v":4.0},{"t":3.928,"v":4.8},{"t":3.935,"v":4.2},{"t":3.942,"v":5.4},{"t":3.95,"v":4.4},{"t":3.958,"v":5.0},{"t":3.965,"v":4.0},{"t":3.972,"v":5.2},{"t":3.98,"v":4.6},{"t":3.988,"v":5.0},{"t":3.995,"v":4.2},{"t":4.002,"v":5.4},{"t":4.01,"v":4.8},{"t":4.018,"v":5.6},{"t":4.025,"v":4.6},{"t":4.033,"v":8.7},{"t":4.036,"v":4.4},{"t":4.043,"v":3.8},{"t":4.05,"v":4.4},{"t":4.058,"v":3.6},{"t":4.065,"v":4.2},{"t":4.072,"v":3.5},{"t":4.08,"v":4.0},{"t":4.088,"v":3.4},{"t":4.095,"v":4.1},{"t":4.102,"v":3.6},{"t":4.11,"v":4.3},{"t":4.118,"v":3.5},{"t":4.125,"v":4.0},{"t":4.132,"v":3.4},{"t":4.14,"v":4.2},{"t":4.148,"v":3.6},{"t":4.155,"v":4.4},{"t":4.162,"v":3.5},{"t":4.17,"v":4.0},{"t":4.178,"v":3.2},{"t":4.185,"v":3.8},{"t":4.192,"v":3.0},{"t":4.2,"v":3.6},{"t":4.208,"v":2.8},{"t":4.215,"v":3.4},{"t":4.222,"v":2.6},{"t":4.23,"v":3.0},{"t":4.238,"v":2.2},{"t":4.245,"v":2.8},{"t":4.252,"v":3.2},{"t":4.26,"v":2.4},{"t":4.268,"v":3.5},{"t":4.275,"v":2.5},{"t":4.282,"v":3.8},{"t":4.29,"v":3.0},{"t":4.295,"v":3.6},{"t":4.3,"v":3.5}],
"bd":[{"t":2.7,"v":2.55},{"t":2.708,"v":2.66},{"t":2.732,"v":2.985},{"t":2.752,"v":3.19},{"t":2.769,"v":3.53},{"t":2.789,"v":3.53},{"t":2.825,"v":3.79},{"t":2.869,"v":4.2},{"t":2.908,"v":4.11},{"t":2.947,"v":4.52},{"t":2.99,"v":4.8},{"t":3.03,"v":4.88},{"t":3.068,"v":5.2},{"t":3.112,"v":5.32},{"t":3.151,"v":5.35},{"t":3.185,"v":5.46},{"t":3.22,"v":5.24},{"t":3.244,"v":5.0},{"t":3.268,"v":4.78}],
"dd":[{"t":2.7,"v":0.06},{"t":2.73,"v":0.07},{"t":2.76,"v":0.08},{"t":2.764,"v":0.1},{"t":2.766,"v":1.27},{"t":2.769,"v":0.12},{"t":2.78,"v":0.15},{"t":2.784,"v":0.16},{"t":2.786,"v":1.19},{"t":2.789,"v":0.18},{"t":2.8,"v":0.2},{"t":2.81,"v":0.25},{"t":2.815,"v":0.3},{"t":2.822,"v":0.32},{"t":2.825,"v":0.5},{"t":2.828,"v":0.3},{"t":2.838,"v":0.28},{"t":2.844,"v":0.62},{"t":2.847,"v":0.3},{"t":2.86,"v":0.35},{"t":2.87,"v":0.4},{"t":2.88,"v":0.6},{"t":2.886,"v":0.78},{"t":2.89,"v":0.65},{"t":2.897,"v":0.48},{"t":2.904,"v":0.42},{"t":2.908,"v":0.86},{"t":2.911,"v":0.42},{"t":2.92,"v":0.4},{"t":2.94,"v":0.36},{"t":2.96,"v":0.37},{"t":2.975,"v":0.4},{"t":2.981,"v":1.51},{"t":2.984,"v":0.44},{"t":3.0,"v":0.45},{"t":3.02,"v":0.45},{"t":3.04,"v":0.48},{"t":3.06,"v":0.43},{"t":3.07,"v":0.75},{"t":3.073,"v":0.44},{"t":3.09,"v":0.47},{"t":3.105,"v":0.45},{"t":3.117,"v":1.1},{"t":3.12,"v":0.48},{"t":3.135,"v":0.5},{"t":3.151,"v":1.55},{"t":3.154,"v":0.52},{"t":3.17,"v":0.5},{"t":3.19,"v":1.3},{"t":3.193,"v":0.55},{"t":3.205,"v":0.52},{"t":3.215,"v":0.6},{"t":3.221,"v":1.3},{"t":3.224,"v":0.58},{"t":3.235,"v":0.62},{"t":3.245,"v":0.55},{"t":3.249,"v":3.6},{"t":3.252,"v":0.6},{"t":3.258,"v":0.65},{"t":3.262,"v":1.5},{"t":3.266,"v":0.7},{"t":3.273,"v":2.52},{"t":3.276,"v":0.8},{"t":3.28,"v":1.0},{"t":3.283,"v":2.44},{"t":3.287,"v":0.9},{"t":3.295,"v":1.5},{"t":3.3,"v":1.75},{"t":3.307,"v":1.8},{"t":3.312,"v":1.5},{"t":3.318,"v":1.65},{"t":3.322,"v":1.75},{"t":3.326,"v":1.2},{"t":3.33,"v":1.6},{"t":3.334,"v":0.5},{"t":3.338,"v":1.4},{"t":3.341,"v":0.25},{"t":3.344,"v":1.55},{"t":3.347,"v":0.2},{"t":3.351,"v":1.5},{"t":3.354,"v":0.2},{"t":3.358,"v":1.0},{"t":3.362,"v":0.2},{"t":3.366,"v":1.2},{"t":3.37,"v":0.2},{"t":3.374,"v":0.9},{"t":3.378,"v":0.18},{"t":3.385,"v":1.1},{"t":3.389,"v":0.2},{"t":3.395,"v":0.8},{"t":3.4,"v":0.18},{"t":3.405,"v":0.9},{"t":3.41,"v":0.18},{"t":3.416,"v":0.75},{"t":3.421,"v":0.2},{"t":3.427,"v":0.6},{"t":3.431,"v":0.18},{"t":3.434,"v":0.75},{"t":3.438,"v":0.17},{"t":3.445,"v":0.6},{"t":3.45,"v":0.18},{"t":3.456,"v":0.55},{"t":3.46,"v":0.17},{"t":3.463,"v":0.7},{"t":3.467,"v":0.16},{"t":3.474,"v":0.5},{"t":3.479,"v":0.17},{"t":3.487,"v":0.65},{"t":3.491,"v":0.16},{"t":3.498,"v":0.5},{"t":3.502,"v":0.17},{"t":3.51,"v":0.15},{"t":3.513,"v":0.55},{"t":3.516,"v":0.2},{"t":3.522,"v":0.14},{"t":3.525,"v":0.45},{"t":3.528,"v":0.19},{"t":3.534,"v":0.16},{"t":3.537,"v":0.6},{"t":3.54,"v":0.21},{"t":3.546,"v":0.15},{"t":3.549,"v":0.4},{"t":3.552,"v":0.18},{"t":3.558,"v":0.14},{"t":3.561,"v":0.5},{"t":3.564,"v":0.2},{"t":3.57,"v":0.16},{"t":3.573,"v":0.42},{"t":3.576,"v":0.19},{"t":3.582,"v":0.15},{"t":3.585,"v":0.58},{"t":3.588,"v":0.21},{"t":3.594,"v":0.14},{"t":3.597,"v":0.38},{"t":3.6,"v":0.18},{"t":3.606,"v":0.16},{"t":3.609,"v":0.48},{"t":3.612,"v":0.2},{"t":3.618,"v":0.15},{"t":3.621,"v":0.52},{"t":3.624,"v":0.19},{"t":3.63,"v":0.14},{"t":3.633,"v":0.4},{"t":3.636,"v":0.2},{"t":3.642,"v":0.15},{"t":3.645,"v":0.6},{"t":3.648,"v":0.21},{"t":3.654,"v":0.14},{"t":3.657,"v":0.44},{"t":3.66,"v":0.18},{"t":3.666,"v":0.16},{"t":3.669,"v":0.5},{"t":3.672,"v":0.2},{"t":3.678,"v":0.15},{"t":3.681,"v":0.38},{"t":3.684,"v":0.19},{"t":3.69,"v":0.14},{"t":3.693,"v":0.55},{"t":3.696,"v":0.2},{"t":3.702,"v":0.15},{"t":3.705,"v":0.45},{"t":3.708,"v":0.18},{"t":3.714,"v":0.14},{"t":3.717,"v":0.5},{"t":3.72,"v":0.2},{"t":3.726,"v":0.16},{"t":3.729,"v":0.4},{"t":3.732,"v":0.19},{"t":3.738,"v":0.15},{"t":3.741,"v":0.56},{"t":3.744,"v":0.21},{"t":3.75,"v":0.14},{"t":3.753,"v":0.42},{"t":3.756,"v":0.18},{"t":3.762,"v":0.15},{"t":3.765,"v":0.48},{"t":3.768,"v":0.2},{"t":3.774,"v":0.14},{"t":3.777,"v":0.38},{"t":3.78,"v":0.19},{"t":3.786,"v":0.16},{"t":3.789,"v":0.5},{"t":3.792,"v":0.2},{"t":3.798,"v":0.15},{"t":3.801,"v":0.45},{"t":3.804,"v":0.18},{"t":3.81,"v":0.14},{"t":3.813,"v":0.55},{"t":3.816,"v":0.2},{"t":3.822,"v":0.15},{"t":3.825,"v":0.4},{"t":3.828,"v":0.19},{"t":3.834,"v":0.14},{"t":3.837,"v":0.48},{"t":3.84,"v":0.21},{"t":3.846,"v":0.15},{"t":3.849,"v":0.52},{"t":3.852,"v":0.18},{"t":3.858,"v":0.14},{"t":3.861,"v":0.4},{"t":3.864,"v":0.2},{"t":3.87,"v":0.15},{"t":3.873,"v":0.5},{"t":3.876,"v":0.19},{"t":3.882,"v":0.14},{"t":3.885,"v":0.44},{"t":3.888,"v":0.2},{"t":3.894,"v":0.16},{"t":3.897,"v":0.55},{"t":3.9,"v":0.18},{"t":3.906,"v":0.15},{"t":3.909,"v":0.4},{"t":3.912,"v":0.2},{"t":3.918,"v":0.14},{"t":3.921,"v":0.48},{"t":3.924,"v":0.19},{"t":3.93,"v":0.15},{"t":3.933,"v":0.42},{"t":3.936,"v":0.21},{"t":3.942,"v":0.14},{"t":3.945,"v":0.52},{"t":3.948,"v":0.18},{"t":3.954,"v":0.15},{"t":3.957,"v":0.38},{"t":3.96,"v":0.2},{"t":3.966,"v":0.14},{"t":3.969,"v":0.5},{"t":3.972,"v":0.19},{"t":3.978,"v":0.15},{"t":3.981,"v":0.45},{"t":3.984,"v":0.2},{"t":3.99,"v":0.14},{"t":3.993,"v":0.55},{"t":3.996,"v":0.18},{"t":4.002,"v":0.15},{"t":4.005,"v":0.4},{"t":4.008,"v":0.2},{"t":4.014,"v":0.14},{"t":4.017,"v":0.48},{"t":4.02,"v":0.19},{"t":4.026,"v":0.16},{"t":4.029,"v":0.42},{"t":4.032,"v":0.21},{"t":4.038,"v":0.15},{"t":4.041,"v":0.5},{"t":4.044,"v":0.18},{"t":4.05,"v":0.14},{"t":4.053,"v":0.44},{"t":4.056,"v":0.2},{"t":4.062,"v":0.15},{"t":4.065,"v":0.52},{"t":4.068,"v":0.19},{"t":4.074,"v":0.14},{"t":4.077,"v":0.4},{"t":4.08,"v":0.2},{"t":4.086,"v":0.15},{"t":4.089,"v":0.48},{"t":4.092,"v":0.18},{"t":4.098,"v":0.14},{"t":4.101,"v":0.38},{"t":4.104,"v":0.2},{"t":4.11,"v":0.15},{"t":4.113,"v":0.5},{"t":4.116,"v":0.19},{"t":4.122,"v":0.14},{"t":4.125,"v":0.45},{"t":4.128,"v":0.21},{"t":4.134,"v":0.15},{"t":4.137,"v":0.52},{"t":4.14,"v":0.18},{"t":4.146,"v":0.14},{"t":4.149,"v":0.4},{"t":4.152,"v":0.2},{"t":4.158,"v":0.15},{"t":4.161,"v":0.46},{"t":4.164,"v":0.19},{"t":4.17,"v":0.14},{"t":4.173,"v":0.42},{"t":4.176,"v":0.2},{"t":4.182,"v":0.15},{"t":4.185,"v":0.5},{"t":4.188,"v":0.18},{"t":4.194,"v":0.14},{"t":4.197,"v":0.38},{"t":4.2,"v":0.2},{"t":4.206,"v":0.15},{"t":4.209,"v":0.48},{"t":4.212,"v":0.19},{"t":4.218,"v":0.14},{"t":4.221,"v":0.44},{"t":4.224,"v":0.21},{"t":4.23,"v":0.15},{"t":4.233,"v":0.5},{"t":4.236,"v":0.18},{"t":4.242,"v":0.14},{"t":4.245,"v":0.4},{"t":4.248,"v":0.2},{"t":4.254,"v":0.15},{"t":4.257,"v":0.46},{"t":4.26,"v":0.19},{"t":4.266,"v":0.14},{"t":4.269,"v":0.42},{"t":4.272,"v":0.2},{"t":4.278,"v":0.15},{"t":4.281,"v":0.5},{"t":4.284,"v":0.18},{"t":4.29,"v":0.14},{"t":4.293,"v":0.4},{"t":4.296,"v":0.2},{"t":4.3,"v":0.15}],
"he":[{"t":2.7,"v":1.7},{"t":2.705,"v":1.88},{"t":2.722,"v":2.07},{"t":2.737,"v":1.95},{"t":2.752,"v":1.75},{"t":2.766,"v":1.46},{"t":2.776,"v":1.4},{"t":2.786,"v":1.5},{"t":2.793,"v":2.0},{"t":2.8,"v":2.5},{"t":2.81,"v":2.6},{"t":2.818,"v":2.45},{"t":2.825,"v":2.07},{"t":2.837,"v":1.88},{"t":2.844,"v":1.85},{"t":2.859,"v":2.03},{"t":2.869,"v":2.25},{"t":2.883,"v":2.22},{"t":2.893,"v":2.15},{"t":2.903,"v":2.11},{"t":2.912,"v":2.25},{"t":2.922,"v":2.4},{"t":2.93,"v":2.36},{"t":2.937,"v":2.33},{"t":2.946,"v":2.24},{"t":2.956,"v":2.24},{"t":2.966,"v":2.17},{"t":2.98,"v":2.07},{"t":2.995,"v":2.2},{"t":3.01,"v":2.42},{"t":3.02,"v":2.28},{"t":3.034,"v":2.14},{"t":3.048,"v":2.14},{"t":3.063,"v":2.11},{"t":3.073,"v":2.14},{"t":3.083,"v":2.165},{"t":3.103,"v":2.09},{"t":3.118,"v":2.16},{"t":3.132,"v":2.22},{"t":3.151,"v":2.14},{"t":3.171,"v":2.11},{"t":3.185,"v":2.04},{"t":3.195,"v":2.06},{"t":3.21,"v":2.01},{"t":3.224,"v":1.85},{"t":3.239,"v":1.82},{"t":3.249,"v":1.72},{"t":3.258,"v":1.68},{"t":3.268,"v":1.576},{"t":3.278,"v":1.55},{"t":3.288,"v":1.447},{"t":3.307,"v":1.43},{"t":3.322,"v":1.3},{"t":3.337,"v":1.157},{"t":3.349,"v":1.01},{"t":3.355,"v":0.9},{"t":3.6,"v":0.9},{"t":3.605,"v":1.0},{"t":3.614,"v":1.06},{"t":3.624,"v":1.0},{"t":3.64,"v":0.98},{"t":3.653,"v":1.08},{"t":3.663,"v":1.03},{"t":3.675,"v":1.03},{"t":3.685,"v":1.04},{"t":3.692,"v":1.045},{"t":3.7,"v":1.0},{"t":3.71,"v":1.04},{"t":3.715,"v":1.05},{"t":3.721,"v":1.05},{"t":3.725,"v":0.98},{"t":3.77,"v":0.98},{"t":3.775,"v":1.12},{"t":3.785,"v":1.07},{"t":3.8,"v":1.09},{"t":3.814,"v":1.095},{"t":3.824,"v":1.0},{"t":3.853,"v":1.094},{"t":3.863,"v":1.05},{"t":3.875,"v":1.06},{"t":3.892,"v":1.11},{"t":3.907,"v":1.03},{"t":3.931,"v":1.094},{"t":3.94,"v":1.04},{"t":3.955,"v":1.035},{"t":3.97,"v":1.04},{"t":3.98,"v":1.0},{"t":3.994,"v":1.06},{"t":4.009,"v":1.1},{"t":4.02,"v":1.0},{"t":4.035,"v":1.01},{"t":4.053,"v":1.094},{"t":4.063,"v":1.03},{"t":4.075,"v":1.06},{"t":4.092,"v":1.094},{"t":4.105,"v":1.05},{"t":4.121,"v":1.085},{"t":4.135,"v":1.07},{"t":4.145,"v":1.0},{"t":4.17,"v":1.125},{"t":4.18,"v":1.06},{"t":4.199,"v":1.11},{"t":4.21,"v":1.08},{"t":4.22,"v":1.11},{"t":4.23,"v":1.05},{"t":4.24,"v":1.07},{"t":4.25,"v":1.04},{"t":4.26,"v":1.08},{"t":4.27,"v":1.03},{"t":4.292,"v":1.14},{"t":4.3,"v":1.09}],
"lie":[{"t":2.7,"v":1.36},{"t":2.708,"v":1.36},{"t":2.742,"v":1.34},{"t":2.769,"v":1.35},{"t":2.79,"v":1.43},{"t":2.83,"v":1.37},{"t":2.869,"v":1.48},{"t":2.947,"v":1.34},{"t":2.988,"v":1.39},{"t":3.03,"v":1.35},{"t":3.068,"v":1.37},{"t":3.151,"v":1.32},{"t":3.19,"v":1.36},{"t":3.268,"v":1.27}],
"ff":[{"t":2.7,"v":0.8},{"t":2.708,"v":0.66},{"t":2.715,"v":0.3},{"t":2.722,"v":0.44},{"t":2.73,"v":0.2},{"t":2.742,"v":1.13},{"t":2.75,"v":0.8},{"t":2.76,"v":1.5},{"t":2.771,"v":1.9},{"t":2.778,"v":1.3},{"t":2.786,"v":0.9},{"t":2.79,"v":0.1},{"t":2.798,"v":3.2},{"t":2.803,"v":0},{"t":2.812,"v":0},{"t":2.82,"v":8.3},{"t":2.826,"v":0.2},{"t":2.832,"v":0.5},{"t":2.839,"v":12.6},{"t":2.843,"v":3},{"t":2.847,"v":0.3},{"t":2.854,"v":14.7},{"t":2.859,"v":0.2},{"t":2.864,"v":0.4},{"t":2.87,"v":12},{"t":2.876,"v":0.3},{"t":2.882,"v":0.2},{"t":2.888,"v":4.6},{"t":2.893,"v":0.3},{"t":2.9,"v":15.8},{"t":2.906,"v":0.5},{"t":2.911,"v":0.2},{"t":2.915,"v":12.9},{"t":2.921,"v":0.3},{"t":2.929,"v":14.2},{"t":2.935,"v":0.5},{"t":2.942,"v":13.1},{"t":2.948,"v":1},{"t":2.956,"v":14.1},{"t":2.961,"v":2},{"t":2.968,"v":9.7},{"t":2.972,"v":1},{"t":2.976,"v":11},{"t":2.981,"v":0.5},{"t":2.987,"v":12.4},{"t":2.992,"v":1},{"t":3.0,"v":10.9},{"t":3.005,"v":2.5},{"t":3.01,"v":12.2},{"t":3.016,"v":1},{"t":3.025,"v":13.9},{"t":3.029,"v":1.5},{"t":3.034,"v":14.3},{"t":3.04,"v":0.8},{"t":3.047,"v":14.5},{"t":3.051,"v":1},{"t":3.056,"v":12.6},{"t":3.06,"v":0.5},{"t":3.064,"v":12.6},{"t":3.068,"v":1},{"t":3.073,"v":14.7},{"t":3.078,"v":0.5},{"t":3.083,"v":7.1},{"t":3.087,"v":0.5},{"t":3.091,"v":16},{"t":3.096,"v":0.3},{"t":3.103,"v":14},{"t":3.107,"v":0.3},{"t":3.112,"v":15.3},{"t":3.117,"v":0.2},{"t":3.122,"v":14.7},{"t":3.126,"v":0.3},{"t":3.128,"v":1.1},{"t":3.135,"v":1.5},{"t":3.14,"v":1.8},{"t":3.146,"v":2.0},{"t":3.148,"v":12.2},{"t":3.151,"v":2.5},{"t":3.155,"v":15.1},{"t":3.158,"v":3},{"t":3.162,"v":11},{"t":3.165,"v":3.5},{"t":3.168,"v":10},{"t":3.171,"v":4},{"t":3.174,"v":12},{"t":3.177,"v":5},{"t":3.18,"v":10.5},{"t":3.183,"v":6},{"t":3.186,"v":9},{"t":3.19,"v":9.6},{"t":3.195,"v":12},{"t":3.2,"v":15.6},{"t":3.205,"v":15},{"t":3.21,"v":16.8},{"t":3.215,"v":18.1},{"t":3.22,"v":15},{"t":3.225,"v":17},{"t":3.229,"v":19.5},{"t":3.235,"v":19},{"t":3.24,"v":18.5},{"t":3.244,"v":18.8},{"t":3.25,"v":16},{"t":3.254,"v":17},{"t":3.258,"v":14.9},{"t":3.262,"v":18.3},{"t":3.267,"v":15},{"t":3.271,"v":17},{"t":3.275,"v":15},{"t":3.278,"v":19.7},{"t":3.282,"v":15.5},{"t":3.288,"v":20},{"t":3.292,"v":17},{"t":3.297,"v":15.1},{"t":3.302,"v":15.5},{"t":3.307,"v":14.7},{"t":3.311,"v":13},{"t":3.315,"v":11.2},{"t":3.319,"v":11.5},{"t":3.323,"v":12},{"t":3.327,"v":15.8},{"t":3.331,"v":14},{"t":3.336,"v":15},{"t":3.34,"v":13.5},{"t":3.344,"v":16.5},{"t":3.349,"v":14},{"t":3.352,"v":12.5},{"t":3.356,"v":11.2},{"t":3.36,"v":12.5},{"t":3.365,"v":12.2},{"t":3.37,"v":13},{"t":3.375,"v":13.1},{"t":3.38,"v":12.2},{"t":3.385,"v":12.8},{"t":3.39,"v":12.5},{"t":3.395,"v":12.4},{"t":3.4,"v":14},{"t":3.405,"v":15.5},{"t":3.41,"v":17},{"t":3.414,"v":15},{"t":3.419,"v":16},{"t":3.424,"v":15.1},{"t":3.428,"v":14.5},{"t":3.433,"v":15.2},{"t":3.438,"v":13.8},{"t":3.444,"v":14},{"t":3.448,"v":15},{"t":3.453,"v":13.5},{"t":3.458,"v":14.8},{"t":3.463,"v":14.5},{"t":3.468,"v":13},{"t":3.473,"v":14},{"t":3.478,"v":11.9},{"t":3.483,"v":13.5},{"t":3.487,"v":14.2},{"t":3.492,"v":13.5},{"t":3.497,"v":12},{"t":3.502,"v":13.2},{"t":3.507,"v":11.5},{"t":3.512,"v":12.4},{"t":3.517,"v":11},{"t":3.522,"v":12.5},{"t":3.527,"v":10.8},{"t":3.532,"v":11.5},{"t":3.537,"v":11.8},{"t":3.541,"v":10.5},{"t":3.546,"v":11.2},{"t":3.551,"v":10.3},{"t":3.556,"v":11},{"t":3.56,"v":9.4},{"t":3.565,"v":10.5},{"t":3.57,"v":10},{"t":3.575,"v":11},{"t":3.58,"v":10.2},{"t":3.585,"v":11.9},{"t":3.59,"v":10},{"t":3.595,"v":8.7},{"t":3.6,"v":9.5},{"t":3.605,"v":10.2},{"t":3.61,"v":9.8},{"t":3.614,"v":10.8},{"t":3.619,"v":9.5},{"t":3.624,"v":8.7},{"t":3.629,"v":8.0},{"t":3.634,"v":9},{"t":3.639,"v":8.5},{"t":3.644,"v":9.3},{"t":3.648,"v":8.2},{"t":3.653,"v":9.1},{"t":3.658,"v":9.6},{"t":3.663,"v":8.4},{"t":3.668,"v":8.2},{"t":3.673,"v":8.9},{"t":3.678,"v":7.9},{"t":3.683,"v":8.6},{"t":3.687,"v":8.7},{"t":3.692,"v":7.8},{"t":3.697,"v":8.3},{"t":3.702,"v":7.6},{"t":3.707,"v":8.0},{"t":3.712,"v":7.4},{"t":3.717,"v":7.1},{"t":3.722,"v":7.8},{"t":3.727,"v":7.3},{"t":3.731,"v":7.9},{"t":3.736,"v":7.2},{"t":3.741,"v":7.6},{"t":3.746,"v":7.8},{"t":3.751,"v":7.1},{"t":3.756,"v":7.7},{"t":3.761,"v":7.3},{"t":3.766,"v":7.5},{"t":3.771,"v":7.0},{"t":3.775,"v":7.6},{"t":3.78,"v":7.2},{"t":3.785,"v":7.8},{"t":3.79,"v":7.1},{"t":3.795,"v":7.5},{"t":3.8,"v":7.3},{"t":3.805,"v":7.9},{"t":3.81,"v":7.2},{"t":3.815,"v":7.4},{"t":3.82,"v":7.0},{"t":3.824,"v":7.6},{"t":3.829,"v":7.3},{"t":3.834,"v":7.7},{"t":3.839,"v":7.1},{"t":3.844,"v":7.6},{"t":3.848,"v":7.4},{"t":3.853,"v":7.9},{"t":3.858,"v":8.25},{"t":3.863,"v":7.3},{"t":3.868,"v":7.5},{"t":3.873,"v":7.1},{"t":3.878,"v":7.6},{"t":3.882,"v":7.2},{"t":3.887,"v":7.7},{"t":3.892,"v":8.9},{"t":3.897,"v":7.4},{"t":3.902,"v":7.6},{"t":3.907,"v":7.2},{"t":3.912,"v":7.5},{"t":3.917,"v":7.0},{"t":3.922,"v":7.6},{"t":3.927,"v":7.3},{"t":3.932,"v":7.8},{"t":3.937,"v":7.1},{"t":3.942,"v":7.5},{"t":3.947,"v":7.2},{"t":3.952,"v":7.7},{"t":3.957,"v":7.0},{"t":3.962,"v":7.4},{"t":3.967,"v":7.1},{"t":3.972,"v":7.6},{"t":3.977,"v":7.2},{"t":3.982,"v":7.5},{"t":3.987,"v":6.9},{"t":3.992,"v":7.3},{"t":3.997,"v":7.0},{"t":4.002,"v":7.4},{"t":4.007,"v":6.8},{"t":4.012,"v":6.6},{"t":4.017,"v":7.2},{"t":4.022,"v":7.0},{"t":4.027,"v":7.5},{"t":4.032,"v":7.1},{"t":4.037,"v":7.4},{"t":4.042,"v":7.0},{"t":4.047,"v":7.6},{"t":4.052,"v":7.2},{"t":4.057,"v":7.5},{"t":4.062,"v":7.1},{"t":4.067,"v":7.7},{"t":4.072,"v":7.2},{"t":4.077,"v":7.4},{"t":4.082,"v":7.0},{"t":4.087,"v":7.5},{"t":4.092,"v":7.1},{"t":4.097,"v":7.6},{"t":4.102,"v":7.3},{"t":4.107,"v":7.5},{"t":4.112,"v":7.0},{"t":4.117,"v":7.4},{"t":4.122,"v":7.2},{"t":4.127,"v":7.6},{"t":4.132,"v":7.1},{"t":4.137,"v":7.5},{"t":4.142,"v":7.3},{"t":4.147,"v":7.8},{"t":4.152,"v":7.2},{"t":4.157,"v":8.0},{"t":4.162,"v":7.3},{"t":4.167,"v":7.6},{"t":4.172,"v":7.0},{"t":4.177,"v":7.4},{"t":4.182,"v":7.1},{"t":4.187,"v":7.6},{"t":4.192,"v":7.2},{"t":4.197,"v":7.5},{"t":4.202,"v":7.0},{"t":4.207,"v":7.6},{"t":4.212,"v":7.3},{"t":4.217,"v":8.2},{"t":4.222,"v":7.4},{"t":4.227,"v":7.7},{"t":4.232,"v":7.1},{"t":4.237,"v":7.5},{"t":4.242,"v":7.0},{"t":4.247,"v":7.4},{"t":4.252,"v":6.9},{"t":4.257,"v":7.3},{"t":4.262,"v":6.8},{"t":4.267,"v":7.2},{"t":4.272,"v":6.6},{"t":4.277,"v":7.1},{"t":4.282,"v":6.9},{"t":4.287,"v":7.5},{"t":4.292,"v":7.2},{"t":4.297,"v":7.6},{"t":4.3,"v":7.4}]
},
"vconcat":[
{"width":548,"height":146,
 "resolve":{"scale":{"y":"independent"},"axis":{"x":"independent","y":"independent"}},
 "layer":[
  {"layer":[
   {"data":{"name":"ba"},"mark":{"type":"line","color":"black","strokeWidth":1.5,"clip":true},
    "encoding":{"x":{"field":"t","type":"quantitative","scale":{"domain":[2.7,4.3]},"axis":{"orient":"bottom","values":[3,3.5,4],"labels":false,"tickSize":-4,"title":null}},
     "y":{"field":"v","type":"quantitative","scale":{"domain":[2,5]},"axis":{"orient":"left","values":[2,2.5,3,3.5,4,4.5,5],"labelExpr":"datum.value % 1 == 0 ? format(datum.value, '.1f') : ''","tickSize":-11,"labelPadding":27,"labelFlush":true,"title":null}}}},
   {"data":{"values":[{}]},"mark":{"type":"rule","strokeDash":[8,6],"color":"black","strokeWidth":1.3},"encoding":{"y":{"datum":4,"scale":{"domain":[2,5]}}}},
   {"data":{"values":[{}]},"mark":{"type":"text","text":"(a)","fontSize":23,"fontWeight":"bold","align":"left","baseline":"middle"},"encoding":{"x":{"datum":2.733,"scale":{"domain":[2.7,4.3]}},"y":{"datum":4.59,"scale":{"domain":[2,5]}}}},
   {"data":{"values":[{}]},"mark":{"type":"text","text":"β","fontSize":23,"align":"left","baseline":"alphabetic"},"encoding":{"x":{"datum":2.887,"scale":{"domain":[2.7,4.3]}},"y":{"datum":4.466,"scale":{"domain":[2,5]}}}},
   {"data":{"values":[{}]},"mark":{"type":"text","text":"N","fontSize":15,"fontWeight":"bold","align":"left","baseline":"alphabetic","dx":15,"dy":4},"encoding":{"x":{"datum":2.887,"scale":{"domain":[2.7,4.3]}},"y":{"datum":4.466,"scale":{"domain":[2,5]}}}},
   {"data":{"values":[{}]},"mark":{"type":"rule","color":"black","strokeWidth":1.5},"encoding":{"x":{"datum":2.865,"scale":{"domain":[2.7,4.3]}},"x2":{"datum":2.963},"y":{"datum":4.22,"scale":{"domain":[2,5]}}}},
   {"data":{"values":[{}]},"mark":{"type":"point","shape":"triangle-left","filled":true,"size":55,"color":"black","opacity":1},"encoding":{"x":{"datum":2.868,"scale":{"domain":[2.7,4.3]}},"y":{"datum":4.22,"scale":{"domain":[2,5]}}}},
   {"data":{"values":[{}]},"mark":{"type":"text","text":"134119","fontSize":22,"fontWeight":"bold","align":"right","baseline":"middle"},"encoding":{"x":{"datum":4.2906,"scale":{"domain":[2.7,4.3]}},"y":{"datum":5.246,"scale":{"domain":[2,5]}}}}
  ]},
  {"layer":[
   {"data":{"name":"da"},"mark":{"type":"line","color":"#3a53a4","strokeWidth":1.5,"clip":true},
    "encoding":{"x":{"field":"t","type":"quantitative","scale":{"domain":[2.7,4.3]},"axis":{"orient":"top","values":[3,3.5,4],"labels":false,"tickSize":-4,"title":null}},
     "y":{"field":"v","type":"quantitative","scale":{"domain":[0,0.6]},"axis":{"orient":"right","values":[0,0.1,0.2,0.3,0.4,0.5,0.6],"labelExpr":"round(datum.value*10) % 2 == 0 ? format(datum.value, '.1f') : ''","tickSize":-10,"labelPadding":16,"labelFlush":true,"title":null}}}},
   {"data":{"values":[{}]},"mark":{"type":"text","text":"D","fontSize":23,"fontWeight":"bold","color":"#3a53a4","align":"left","baseline":"alphabetic"},"encoding":{"x":{"datum":3.307,"scale":{"domain":[2.7,4.3]}},"y":{"datum":0.316,"scale":{"domain":[0,0.6]}}}},
   {"data":{"values":[{}]},"mark":{"type":"text","text":"α","fontSize":21,"color":"#3a53a4","align":"left","baseline":"alphabetic","dx":16,"dy":6},"encoding":{"x":{"datum":3.307,"scale":{"domain":[2.7,4.3]}},"y":{"datum":0.316,"scale":{"domain":[0,0.6]}}}},
   {"data":{"values":[{}]},"mark":{"type":"text","text":"(10","fontSize":23,"fontWeight":"bold","color":"#3a53a4","align":"left","baseline":"alphabetic","dx":34},"encoding":{"x":{"datum":3.307,"scale":{"domain":[2.7,4.3]}},"y":{"datum":0.316,"scale":{"domain":[0,0.6]}}}},
   {"data":{"values":[{}]},"mark":{"type":"text","text":"16","fontSize":16,"fontWeight":"bold","color":"#3a53a4","align":"left","baseline":"alphabetic","dx":67,"dy":-8},"encoding":{"x":{"datum":3.307,"scale":{"domain":[2.7,4.3]}},"y":{"datum":0.316,"scale":{"domain":[0,0.6]}}}},
   {"data":{"values":[{}]},"mark":{"type":"text","text":"ph/cm","fontSize":23,"fontWeight":"bold","color":"#3a53a4","align":"left","baseline":"alphabetic","dx":91},"encoding":{"x":{"datum":3.307,"scale":{"domain":[2.7,4.3]}},"y":{"datum":0.316,"scale":{"domain":[0,0.6]}}}},
   {"data":{"values":[{}]},"mark":{"type":"text","text":"2","fontSize":16,"fontWeight":"bold","color":"#3a53a4","align":"left","baseline":"alphabetic","dx":159,"dy":-8},"encoding":{"x":{"datum":3.307,"scale":{"domain":[2.7,4.3]}},"y":{"datum":0.316,"scale":{"domain":[0,0.6]}}}},
   {"data":{"values":[{}]},"mark":{"type":"text","text":"/s/sr)","fontSize":23,"fontWeight":"bold","color":"#3a53a4","align":"left","baseline":"alphabetic","dx":168},"encoding":{"x":{"datum":3.307,"scale":{"domain":[2.7,4.3]}},"y":{"datum":0.316,"scale":{"domain":[0,0.6]}}}},
   {"data":{"values":[{}]},"mark":{"type":"rule","color":"#3a53a4","strokeWidth":1.5},"encoding":{"x":{"datum":3.843,"scale":{"domain":[2.7,4.3]}},"x2":{"datum":4.005},"y":{"datum":0.254,"scale":{"domain":[0,0.6]}}}},
   {"data":{"values":[{}]},"mark":{"type":"point","shape":"triangle-right","filled":true,"size":55,"color":"#3a53a4","opacity":1},"encoding":{"x":{"datum":4.003,"scale":{"domain":[2.7,4.3]}},"y":{"datum":0.254,"scale":{"domain":[0,0.6]}}}}
  ]}
 ]},
{"width":548,"height":145,
 "resolve":{"axis":{"x":"independent","y":"independent"}},
 "layer":[
  {"layer":[
   {"data":{"name":"lib"},"mark":{"type":"line","color":"#ec1c24","strokeWidth":1.5,"clip":true},
    "encoding":{"x":{"field":"t","type":"quantitative","scale":{"domain":[2.7,4.3]},"axis":{"orient":"bottom","values":[3,3.5,4],"labels":false,"tickSize":-4,"title":null}},
     "y":{"field":"v","type":"quantitative","scale":{"domain":[0.9,2.0]},"axis":{"orient":"left","values":[1.0,1.2,1.4,1.6,1.8],"labelExpr":"round(datum.value*10) % 4 == 2 ? format(datum.value, '.1f') : ''","tickSize":-11,"labelPadding":27,"labelFlush":true,"title":null}}}},
   {"data":{"values":[{}]},"mark":{"type":"text","text":"(b)","fontSize":23,"fontWeight":"bold","align":"left","baseline":"middle"},"encoding":{"x":{"datum":2.732,"scale":{"domain":[2.7,4.3]}},"y":{"datum":1.029,"scale":{"domain":[0.9,2.0]}}}},
   {"data":{"values":[{}]},"mark":{"type":"text","text":"ℓ","fontSize":22,"fontStyle":"italic","color":"#ec1c24","align":"left","baseline":"alphabetic"},"encoding":{"x":{"datum":3.361,"scale":{"domain":[2.7,4.3]}},"y":{"datum":1.059,"scale":{"domain":[0.9,2.0]}}}},
   {"data":{"values":[{}]},"mark":{"type":"text","text":"i","fontSize":17,"fontWeight":"bold","color":"#ec1c24","align":"left","baseline":"alphabetic","dx":12,"dy":1},"encoding":{"x":{"datum":3.361,"scale":{"domain":[2.7,4.3]}},"y":{"datum":1.059,"scale":{"domain":[0.9,2.0]}}}},
   {"data":{"values":[{}]},"mark":{"type":"text","text":"H","fontSize":25,"fontWeight":"bold","align":"left","baseline":"alphabetic"},"encoding":{"x":{"datum":3.936,"scale":{"domain":[2.7,4.3]}},"y":{"datum":1.712,"scale":{"domain":[0.9,2.0]}}}},
   {"data":{"values":[{}]},"mark":{"type":"text","text":"98","fontSize":18,"fontWeight":"bold","align":"left","baseline":"alphabetic","dx":18,"dy":6},"encoding":{"x":{"datum":3.936,"scale":{"domain":[2.7,4.3]}},"y":{"datum":1.712,"scale":{"domain":[0.9,2.0]}}}}
  ]},
  {"layer":[
   {"data":{"name":"hb"},"mark":{"type":"line","color":"black","strokeWidth":1.5,"clip":true},
    "encoding":{"x":{"field":"t","type":"quantitative","scale":{"domain":[2.7,4.3]},"axis":{"orient":"top","values":[3,3.5,4],"labels":false,"tickSize":-4,"title":null}},
     "y":{"field":"v","type":"quantitative","scale":{"domain":[0.9,2.0]},"axis":{"orient":"right","values":[1.0,1.2,1.4,1.6,1.8],"labels":false,"tickSize":-10,"title":null}}}}
  ]}
 ]},
{"width":548,"height":146,
 "resolve":{"axis":{"x":"independent","y":"independent"}},
 "layer":[
  {"layer":[
   {"data":{"name":"n2c"},"mark":{"type":"line","color":"#ec1c24","strokeWidth":1.5,"clip":true},
    "encoding":{"x":{"field":"t","type":"quantitative","scale":{"domain":[2.7,4.3]},"axis":{"orient":"bottom","values":[3,3.5,4],"labels":false,"tickSize":-4,"title":null}},
     "y":{"field":"v","type":"quantitative","scale":{"domain":[0,20]},"axis":{"orient":"left","values":[0,5,10,15,20],"labelExpr":"datum.value % 10 == 0 ? datum.label : ''","tickSize":-11,"labelPadding":22,"labelFlush":true,"title":null}}}},
   {"data":{"values":[{}]},"mark":{"type":"text","text":"(c)","fontSize":23,"fontWeight":"bold","align":"left","baseline":"middle"},"encoding":{"x":{"datum":2.732,"scale":{"domain":[2.7,4.3]}},"y":{"datum":17.2,"scale":{"domain":[0,20]}}}},
   {"data":{"values":[{}]},"mark":{"type":"text","text":"n=1","fontSize":21,"fontWeight":"bold","align":"left","baseline":"middle"},"encoding":{"x":{"datum":2.776,"scale":{"domain":[2.7,4.3]}},"y":{"datum":10.3,"scale":{"domain":[0,20]}}}},
   {"data":{"values":[{}]},"mark":{"type":"text","text":"RMS Amplitude (G)","fontSize":22,"fontWeight":"bold","align":"left","baseline":"middle"},"encoding":{"x":{"datum":3.161,"scale":{"domain":[2.7,4.3]}},"y":{"datum":17,"scale":{"domain":[0,20]}}}},
   {"data":{"values":[{}]},"mark":{"type":"text","text":"n=2","fontSize":22,"fontWeight":"bold","color":"#ec1c24","align":"left","baseline":"middle"},"encoding":{"x":{"datum":3.936,"scale":{"domain":[2.7,4.3]}},"y":{"datum":11.2,"scale":{"domain":[0,20]}}}},
   {"data":{"values":[{}]},"mark":{"type":"rule","color":"#ec1c24","strokeWidth":1.5},"encoding":{"x":{"datum":3.989,"scale":{"domain":[2.7,4.3]}},"y":{"datum":9.4,"scale":{"domain":[0,20]}},"y2":{"datum":6.8}}},
   {"data":{"values":[{}]},"mark":{"type":"point","shape":"triangle-down","filled":true,"size":55,"color":"#ec1c24","opacity":1},"encoding":{"x":{"datum":3.989,"scale":{"domain":[2.7,4.3]}},"y":{"datum":6.8,"scale":{"domain":[0,20]}}}}
  ]},
  {"layer":[
   {"data":{"name":"n1c"},"mark":{"type":"line","color":"black","strokeWidth":1.5,"clip":true},
    "encoding":{"x":{"field":"t","type":"quantitative","scale":{"domain":[2.7,4.3]},"axis":{"orient":"top","values":[3,3.5,4],"labels":false,"tickSize":-4,"title":null}},
     "y":{"field":"v","type":"quantitative","scale":{"domain":[0,20]},"axis":{"orient":"right","values":[0,5,10,15,20],"labels":false,"tickSize":-10,"title":null}}}}
  ]}
 ]},
{"width":548,"height":144,
 "resolve":{"scale":{"y":"independent"},"axis":{"x":"independent","y":"independent"}},
 "layer":[
  {"layer":[
   {"data":{"name":"bd"},"mark":{"type":"line","color":"black","strokeWidth":1.5,"clip":true},
    "encoding":{"x":{"field":"t","type":"quantitative","scale":{"domain":[2.7,4.3]},"axis":{"orient":"bottom","values":[3,3.5,4],"labels":false,"tickSize":-4,"title":null}},
     "y":{"field":"v","type":"quantitative","scale":{"domain":[2,5.5]},"axis":{"orient":"left","values":[2,2.5,3,3.5,4,4.5,5],"labelExpr":"datum.value % 1 == 0 ? format(datum.value, '.1f') : ''","tickSize":-11,"labelPadding":27,"labelFlush":true,"title":null}}}},
   {"data":{"values":[{}]},"mark":{"type":"rule","strokeDash":[8,6],"color":"black","strokeWidth":1.3},"encoding":{"y":{"datum":5,"scale":{"domain":[2,5.5]}}}},
   {"data":{"values":[{}]},"mark":{"type":"text","text":"(d)","fontSize":23,"fontWeight":"bold","align":"left","baseline":"middle"},"encoding":{"x":{"datum":2.732,"scale":{"domain":[2.7,4.3]}},"y":{"datum":4.56,"scale":{"domain":[2,5.5]}}}},
   {"data":{"values":[{}]},"mark":{"type":"text","text":"β","fontSize":23,"align":"left","baseline":"alphabetic"},"encoding":{"x":{"datum":2.981,"scale":{"domain":[2.7,4.3]}},"y":{"datum":4.235,"scale":{"domain":[2,5.5]}}}},
   {"data":{"values":[{}]},"mark":{"type":"text","text":"N","fontSize":15,"fontWeight":"bold","align":"left","baseline":"alphabetic","dx":14,"dy":8},"encoding":{"x":{"datum":2.981,"scale":{"domain":[2.7,4.3]}},"y":{"datum":4.235,"scale":{"domain":[2,5.5]}}}},
   {"data":{"values":[{}]},"mark":{"type":"rule","color":"black","strokeWidth":1.5},"encoding":{"x":{"datum":2.945,"scale":{"domain":[2.7,4.3]}},"x2":{"datum":3.054},"y":{"datum":3.833,"scale":{"domain":[2,5.5]}}}},
   {"data":{"values":[{}]},"mark":{"type":"point","shape":"triangle-left","filled":true,"size":55,"color":"black","opacity":1},"encoding":{"x":{"datum":2.948,"scale":{"domain":[2.7,4.3]}},"y":{"datum":3.833,"scale":{"domain":[2,5.5]}}}},
   {"data":{"values":[{}]},"mark":{"type":"text","text":"159277","fontSize":22,"fontWeight":"bold","align":"right","baseline":"middle"},"encoding":{"x":{"datum":4.2906,"scale":{"domain":[2.7,4.3]}},"y":{"datum":5.85,"scale":{"domain":[2,5.5]}}}}
  ]},
  {"layer":[
   {"data":{"name":"dd"},"mark":{"type":"line","color":"#3a53a4","strokeWidth":1.5,"clip":true},
    "encoding":{"x":{"field":"t","type":"quantitative","scale":{"domain":[2.7,4.3]},"axis":{"orient":"top","values":[3,3.5,4],"labels":false,"tickSize":-4,"title":null}},
     "y":{"field":"v","type":"quantitative","scale":{"domain":[0,3.5]},"axis":{"orient":"right","values":[0,0.5,1,1.5,2,2.5,3],"labelExpr":"datum.value % 1 == 0 ? datum.label : ''","tickSize":-10,"labelPadding":18,"labelFlush":true,"title":null}}}},
   {"data":{"values":[{}]},"mark":{"type":"text","text":"D","fontSize":23,"fontWeight":"bold","color":"#3a53a4","align":"left","baseline":"alphabetic"},"encoding":{"x":{"datum":3.507,"scale":{"domain":[2.7,4.3]}},"y":{"datum":1.065,"scale":{"domain":[0,3.5]}}}},
   {"data":{"values":[{}]},"mark":{"type":"text","text":"α","fontSize":21,"color":"#3a53a4","align":"left","baseline":"alphabetic","dx":16,"dy":6},"encoding":{"x":{"datum":3.507,"scale":{"domain":[2.7,4.3]}},"y":{"datum":1.065,"scale":{"domain":[0,3.5]}}}},
   {"data":{"values":[{}]},"mark":{"type":"text","text":"(10","fontSize":23,"fontWeight":"bold","color":"#3a53a4","align":"left","baseline":"alphabetic","dx":34},"encoding":{"x":{"datum":3.507,"scale":{"domain":[2.7,4.3]}},"y":{"datum":1.065,"scale":{"domain":[0,3.5]}}}},
   {"data":{"values":[{}]},"mark":{"type":"text","text":"16","fontSize":16,"fontWeight":"bold","color":"#3a53a4","align":"left","baseline":"alphabetic","dx":67,"dy":-8},"encoding":{"x":{"datum":3.507,"scale":{"domain":[2.7,4.3]}},"y":{"datum":1.065,"scale":{"domain":[0,3.5]}}}},
   {"data":{"values":[{}]},"mark":{"type":"text","text":"ph/cm","fontSize":23,"fontWeight":"bold","color":"#3a53a4","align":"left","baseline":"alphabetic","dx":91},"encoding":{"x":{"datum":3.507,"scale":{"domain":[2.7,4.3]}},"y":{"datum":1.065,"scale":{"domain":[0,3.5]}}}},
   {"data":{"values":[{}]},"mark":{"type":"text","text":"2","fontSize":16,"fontWeight":"bold","color":"#3a53a4","align":"left","baseline":"alphabetic","dx":159,"dy":-8},"encoding":{"x":{"datum":3.507,"scale":{"domain":[2.7,4.3]}},"y":{"datum":1.065,"scale":{"domain":[0,3.5]}}}},
   {"data":{"values":[{}]},"mark":{"type":"text","text":"/s/sr)","fontSize":23,"fontWeight":"bold","color":"#3a53a4","align":"left","baseline":"alphabetic","dx":168},"encoding":{"x":{"datum":3.507,"scale":{"domain":[2.7,4.3]}},"y":{"datum":1.065,"scale":{"domain":[0,3.5]}}}},
   {"data":{"values":[{}]},"mark":{"type":"rule","color":"#3a53a4","strokeWidth":1.5},"encoding":{"x":{"datum":4.042,"scale":{"domain":[2.7,4.3]}},"x2":{"datum":4.2},"y":{"datum":0.7,"scale":{"domain":[0,3.5]}}}},
   {"data":{"values":[{}]},"mark":{"type":"point","shape":"triangle-right","filled":true,"size":55,"color":"#3a53a4","opacity":1},"encoding":{"x":{"datum":4.199,"scale":{"domain":[2.7,4.3]}},"y":{"datum":0.7,"scale":{"domain":[0,3.5]}}}}
  ]}
 ]},
{"width":548,"height":145,
 "resolve":{"axis":{"x":"independent","y":"independent"}},
 "layer":[
  {"layer":[
   {"data":{"name":"lie"},"mark":{"type":"line","color":"#ec1c24","strokeWidth":1.5,"clip":true},
    "encoding":{"x":{"field":"t","type":"quantitative","scale":{"domain":[2.7,4.3]},"axis":{"orient":"bottom","values":[3,3.5,4],"labels":false,"tickSize":-4,"title":null}},
     "y":{"field":"v","type":"quantitative","scale":{"domain":[1.0,2.4]},"axis":{"orient":"left","values":[1.0,1.2,1.4,1.6,1.8,2.0,2.2],"labelExpr":"round(datum.value*10) % 4 == 2 ? format(datum.value, '.1f') : ''","tickSize":-11,"labelPadding":22,"labelFlush":true,"title":null}}}},
   {"data":{"values":[{}]},"mark":{"type":"text","text":"(e)","fontSize":23,"fontWeight":"bold","align":"left","baseline":"middle"},"encoding":{"x":{"datum":2.718,"scale":{"domain":[2.7,4.3]}},"y":{"datum":2.2,"scale":{"domain":[1.0,2.4]}}}},
   {"data":{"values":[{}]},"mark":{"type":"text","text":"ℓ","fontSize":22,"fontStyle":"italic","color":"#ec1c24","align":"left","baseline":"alphabetic"},"encoding":{"x":{"datum":3.02,"scale":{"domain":[2.7,4.3]}},"y":{"datum":1.531,"scale":{"domain":[1.0,2.4]}}}},
   {"data":{"values":[{}]},"mark":{"type":"text","text":"i","fontSize":17,"fontWeight":"bold","color":"#ec1c24","align":"left","baseline":"alphabetic","dx":12,"dy":3},"encoding":{"x":{"datum":3.02,"scale":{"domain":[2.7,4.3]}},"y":{"datum":1.531,"scale":{"domain":[1.0,2.4]}}}},
   {"data":{"values":[{}]},"mark":{"type":"text","text":"H","fontSize":25,"fontWeight":"bold","align":"left","baseline":"alphabetic"},"encoding":{"x":{"datum":3.297,"scale":{"domain":[2.7,4.3]}},"y":{"datum":1.705,"scale":{"domain":[1.0,2.4]}}}},
   {"data":{"values":[{}]},"mark":{"type":"text","text":"98","fontSize":18,"fontWeight":"bold","align":"left","baseline":"alphabetic","dx":18,"dy":4},"encoding":{"x":{"datum":3.297,"scale":{"domain":[2.7,4.3]}},"y":{"datum":1.705,"scale":{"domain":[1.0,2.4]}}}}
  ]},
  {"layer":[
   {"data":{"name":"he"},"mark":{"type":"line","color":"black","strokeWidth":1.5,"clip":true},
    "encoding":{"x":{"field":"t","type":"quantitative","scale":{"domain":[2.7,4.3]},"axis":{"orient":"top","values":[3,3.5,4],"labels":false,"tickSize":-4,"title":null}},
     "y":{"field":"v","type":"quantitative","scale":{"domain":[1.0,2.4]},"axis":{"orient":"right","values":[1.2,1.4,1.6,1.8,2.0,2.2],"labels":false,"tickSize":-10,"title":null}}}}
  ]}
 ]},
{"width":548,"height":145,
 "resolve":{"axis":{"x":"independent","y":"independent"}},
 "layer":[
  {"layer":[
   {"data":{"name":"ff"},"mark":{"type":"line","color":"black","strokeWidth":1.5,"clip":true},
    "encoding":{"x":{"field":"t","type":"quantitative","scale":{"domain":[2.7,4.3]},"axis":{"orient":"bottom","values":[3,3.5,4],"format":".1f","tickSize":-4,"labelPadding":21,"labelFontSize":22,"title":"Time (s)","titleFontSize":22,"titleFontWeight":"bold","titleColor":"black","titleFont":"Liberation Sans","titlePadding":3}},
     "y":{"field":"v","type":"quantitative","scale":{"domain":[0,20]},"axis":{"orient":"left","values":[0,5,10,15,20],"labelExpr":"datum.value % 10 == 0 ? datum.label : ''","tickSize":-11,"labelPadding":22,"labelFlush":true,"title":null}}}},
   {"data":{"values":[{}]},"mark":{"type":"text","text":"(f)","fontSize":23,"fontWeight":"bold","align":"left","baseline":"middle"},"encoding":{"x":{"datum":2.729,"scale":{"domain":[2.7,4.3]}},"y":{"datum":17,"scale":{"domain":[0,20]}}}},
   {"data":{"values":[{}]},"mark":{"type":"text","text":"n=1 RMS Amplitude (G)","fontSize":22.5,"fontWeight":"bold","align":"left","baseline":"middle"},"encoding":{"x":{"datum":3.507,"scale":{"domain":[2.7,4.3]}},"y":{"datum":16.8,"scale":{"domain":[0,20]}}}}
  ]},
  {"layer":[
   {"data":{"values":[{}]},"mark":{"type":"text","text":" ","fontSize":10},
    "encoding":{"x":{"datum":3,"type":"quantitative","scale":{"domain":[2.7,4.3]},"axis":{"orient":"top","values":[3,3.5,4],"labels":false,"tickSize":-4,"title":null}},
     "y":{"datum":10,"type":"quantitative","scale":{"domain":[0,20]},"axis":{"orient":"right","values":[0,5,10,15,20],"labels":false,"tickSize":-10,"title":null}}}}
  ]}
 ]}
]
}
